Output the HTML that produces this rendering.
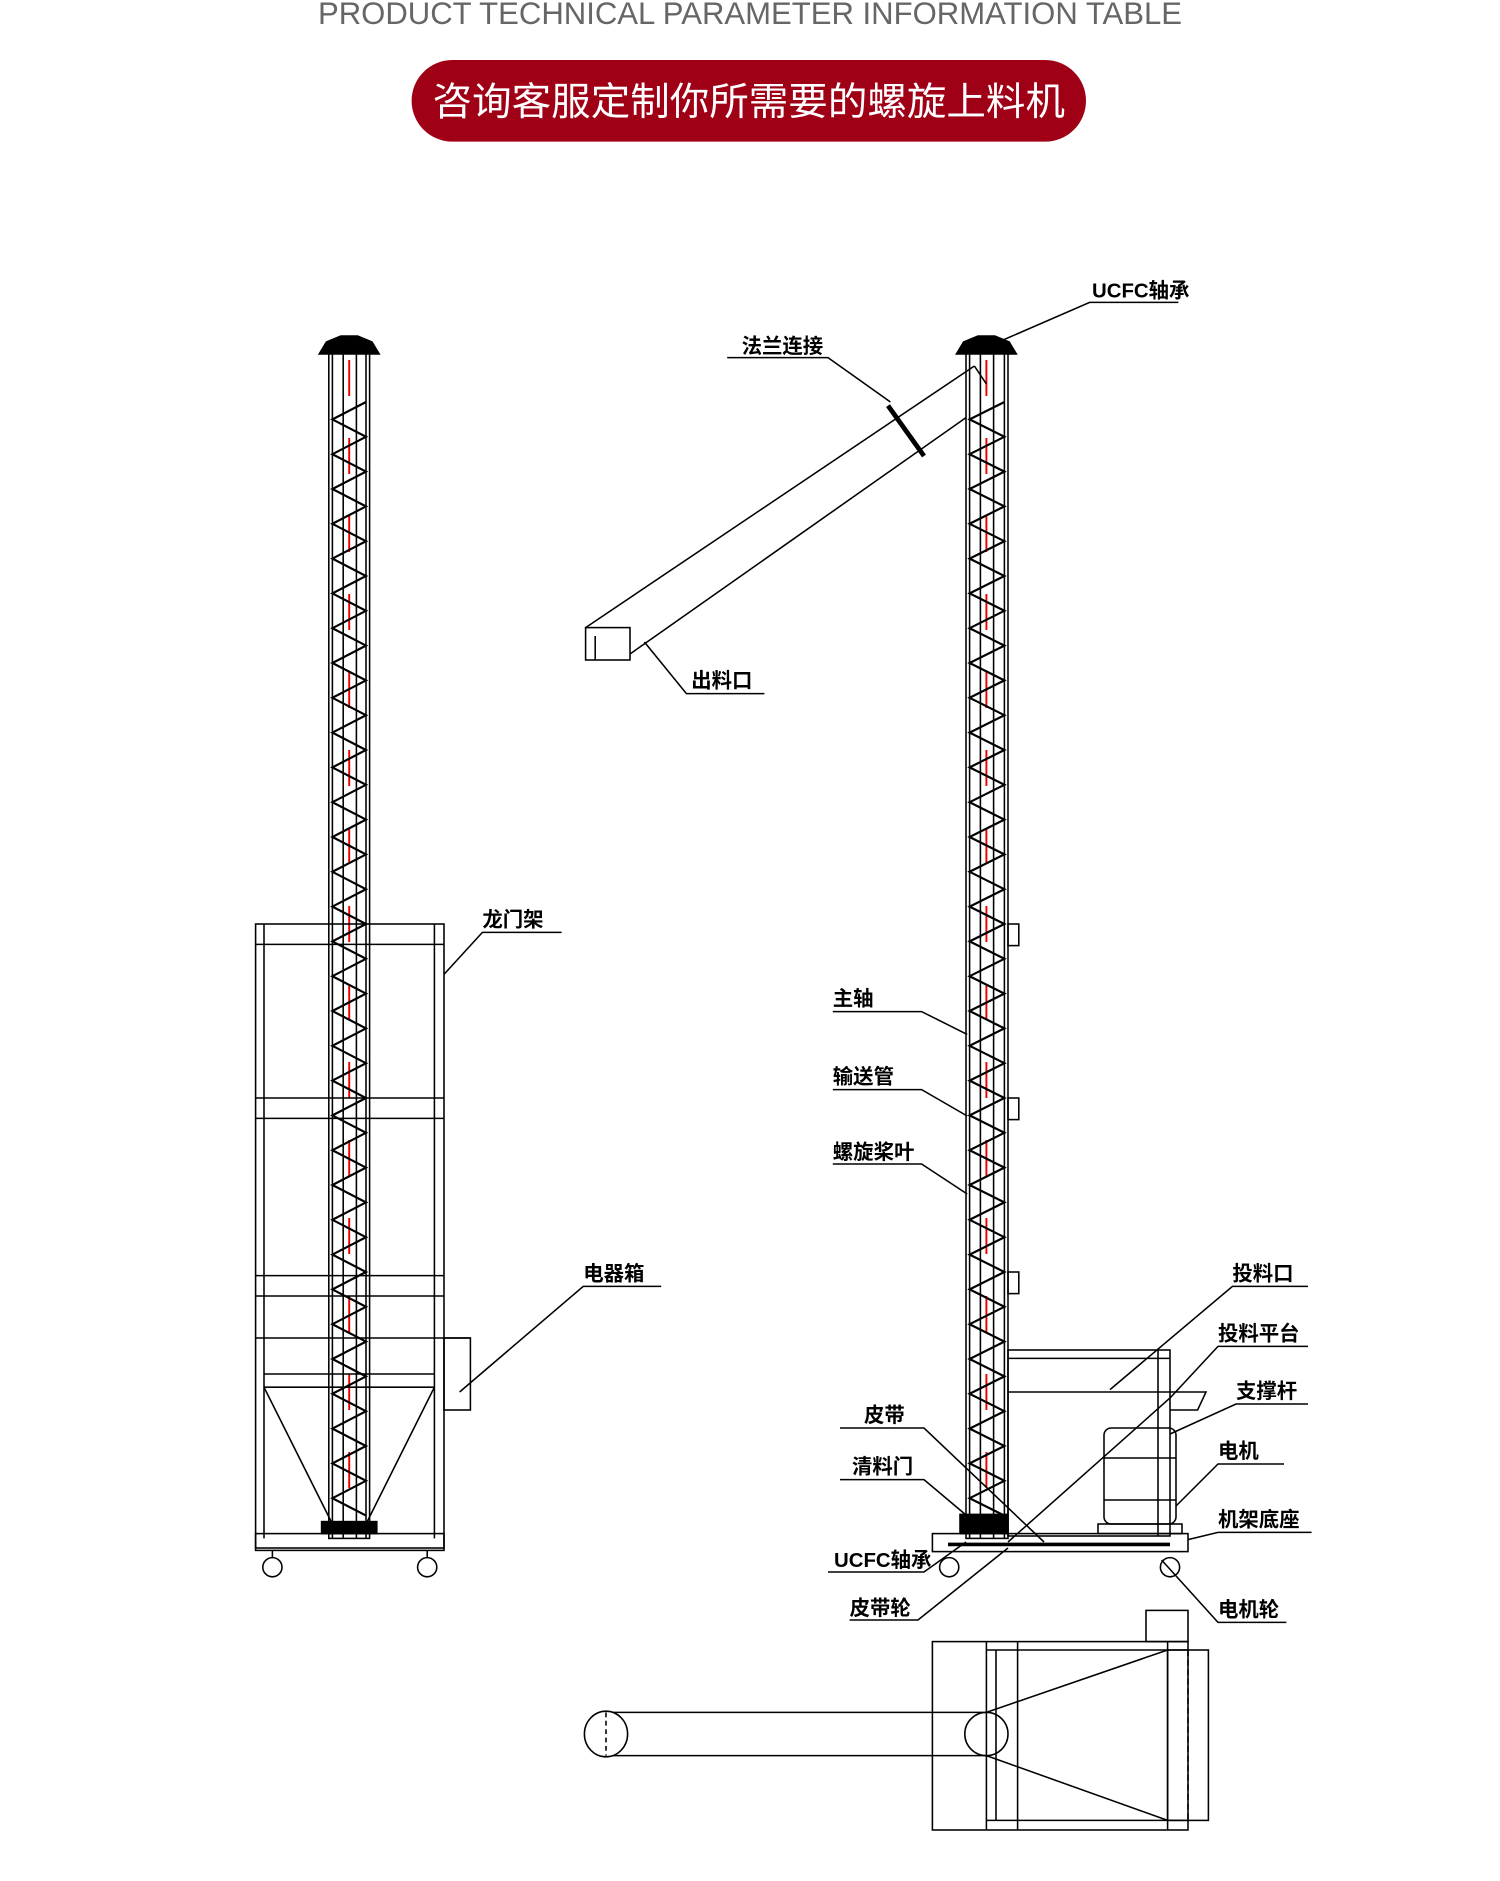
<!DOCTYPE html>
<html><head><meta charset="utf-8"><style>
html,body{margin:0;padding:0;background:#fff;width:1500px;height:1881px;overflow:hidden}
svg{display:block}
.l{font-family:"Liberation Sans","Noto Sans CJK SC",sans-serif;font-weight:bold;font-size:17px;fill:#000}
</style></head><body>
<svg id="s" width="1500" height="1881" viewBox="0 0 1250 1567.5" xmlns="http://www.w3.org/2000/svg">
<text x="625" y="20" text-anchor="middle" font-family="Liberation Sans,sans-serif" font-size="26" fill="#666" textLength="720" lengthAdjust="spacingAndGlyphs">PRODUCT TECHNICAL PARAMETER INFORMATION TABLE</text>
<rect x="343" y="50" width="562" height="68" rx="34" fill="#a00016"/>
<text x="624" y="96" text-anchor="middle" font-family="Liberation Sans,'Noto Sans CJK SC',sans-serif" font-size="32" fill="#fff" textLength="527" lengthAdjust="spacingAndGlyphs">咨询客服定制你所需要的螺旋上料机</text>
<g fill="none" stroke="#000" stroke-width="1.3" id="g">
<!-- left machine -->
<rect x="274" y="292" width="34" height="990"/>
<line x1="277" y1="292" x2="277" y2="1282"/><line x1="305" y1="292" x2="305" y2="1282"/>
<line x1="286" y1="292" x2="286" y2="1282"/><line x1="297" y1="292" x2="297" y2="1282"/>
<path d="M266 295 L316 295 L310 285 L298 280 L284 280 L272 285 Z" fill="#000"/>
<line x1="291" y1="300" x2="291" y2="1275" stroke="#e00" stroke-width="1.6" stroke-dasharray="30 35"/>
<rect x="213" y="770" width="157" height="520"/>
<line x1="220" y1="770" x2="220" y2="1282"/><line x1="362" y1="770" x2="362" y2="1282"/>
<line x1="213" y1="787" x2="370" y2="787"/>
<line x1="213" y1="915" x2="370" y2="915"/><line x1="213" y1="932" x2="370" y2="932"/>
<line x1="213" y1="1063" x2="370" y2="1063"/><line x1="213" y1="1080" x2="370" y2="1080"/>
<line x1="213" y1="1115" x2="392" y2="1115"/>
<line x1="220" y1="1145" x2="362" y2="1145"/><line x1="220" y1="1156" x2="362" y2="1156"/>
<line x1="220" y1="1156" x2="276" y2="1268"/><line x1="362" y1="1156" x2="306" y2="1268"/>
<rect x="370" y="1115" width="22" height="60"/>
<rect x="213" y="1278" width="157" height="14"/>
<rect x="268" y="1268" width="46" height="10" fill="#000"/>
<circle cx="227" cy="1306" r="8"/><circle cx="356" cy="1306" r="8"/>
<line x1="227" y1="1292" x2="227" y2="1298"/><line x1="356" y1="1292" x2="356" y2="1298"/>
<!-- right machine -->
<rect x="805" y="292" width="35" height="990"/>
<line x1="808" y1="292" x2="808" y2="1282"/><line x1="837" y1="292" x2="837" y2="1282"/>
<line x1="817" y1="292" x2="817" y2="1282"/><line x1="828" y1="292" x2="828" y2="1282"/>
<path d="M797 295 L847 295 L841 285 L829 280 L815 280 L803 285 Z" fill="#000"/>
<line x1="822" y1="300" x2="822" y2="1275" stroke="#e00" stroke-width="1.6" stroke-dasharray="30 35"/>
<rect x="840" y="770" width="9" height="18"/><rect x="840" y="915" width="9" height="18"/><rect x="840" y="1060" width="9" height="18"/>
<line x1="812" y1="305" x2="488" y2="523"/><line x1="805" y1="348" x2="525" y2="545"/>
<line x1="812" y1="305" x2="822" y2="320"/>
<rect x="488" y="523" width="37" height="27"/><line x1="496" y1="530" x2="496" y2="550"/>
<line x1="740" y1="338" x2="770" y2="380" stroke-width="4"/>
<rect x="840" y="1125" width="135" height="155"/>
<line x1="840" y1="1132" x2="975" y2="1132"/><line x1="965" y1="1125" x2="965" y2="1280"/>
<path d="M840 1160 L1005 1160 L998 1175 L975 1175"/>
<rect x="920" y="1190" width="60" height="80" rx="6"/>
<line x1="920" y1="1215" x2="980" y2="1215"/><line x1="920" y1="1250" x2="980" y2="1250"/>
<rect x="915" y="1270" width="70" height="8"/>
<rect x="777" y="1278" width="213" height="15"/>
<line x1="790" y1="1287" x2="975" y2="1287" stroke-width="3"/>
<rect x="800" y="1262" width="40" height="16" fill="#000"/>
<circle cx="791" cy="1306" r="8"/><circle cx="975" cy="1306" r="8"/>
<!-- top view -->
<rect x="777" y="1368" width="213" height="157"/>
<line x1="822" y1="1368" x2="822" y2="1525"/><line x1="830" y1="1375" x2="830" y2="1517"/><line x1="848" y1="1368" x2="848" y2="1525"/>
<line x1="822" y1="1375" x2="990" y2="1375"/><line x1="822" y1="1517" x2="990" y2="1517"/>
<line x1="973" y1="1368" x2="973" y2="1525"/>
<rect x="973" y="1375" width="34" height="142"/>
<line x1="990" y1="1375" x2="990" y2="1517" stroke-dasharray="5 3"/>
<rect x="955" y="1342" width="35" height="26"/>
<line x1="822" y1="1427" x2="973" y2="1375"/><line x1="822" y1="1463" x2="973" y2="1517"/>
<line x1="505" y1="1427" x2="822" y2="1427"/><line x1="505" y1="1463" x2="822" y2="1463"/>
<ellipse cx="505" cy="1445" rx="18" ry="19" fill="#fff"/>
<line x1="505" y1="1427" x2="505" y2="1463" stroke-dasharray="4 3"/>
<ellipse cx="822" cy="1445" rx="18" ry="18"/>
<!-- leaders -->
<path d="M468 777 H402 L370 812"/>
<path d="M551 1072 H486 L383 1160"/>
<path d="M606 298 H690 L742 335"/>
<path d="M982 252 H908 L832 285"/>
<path d="M637 578 H572 L537 535"/>
<path d="M694 843 H768 L806 862"/>
<path d="M694 908 H768 L806 930"/>
<path d="M694 970 H768 L806 995"/>
<path d="M1090 1072 H1027 L925 1158"/>
<path d="M1090 1122 H1015 L975 1165 L840 1285"/>
<path d="M1090 1170 H1030 L975 1195"/>
<path d="M1070 1220 H1015 L980 1255"/>
<path d="M1093 1277 H1015 L990 1283"/>
<path d="M1072 1352 H1015 L968 1300"/>
<path d="M700 1190 H770 L870 1285"/>
<path d="M700 1233 H770 L808 1265"/>
<path d="M690 1310 H770 L805 1285"/>
<path d="M708 1350 H765 L840 1290"/>
</g>
<path id="sp1" fill="none" stroke="#000" stroke-width="1.8"/>
<path id="sp2" fill="none" stroke="#000" stroke-width="1.8"/>
<g class="l">
<text x="402" y="772">龙门架</text>
<text x="486" y="1067">电器箱</text>
<text x="618" y="294">法兰连接</text>
<text x="910" y="248">UCFC轴承</text>
<text x="576" y="573">出料口</text>
<text x="694" y="838">主轴</text>
<text x="694" y="903">输送管</text>
<text x="694" y="966">螺旋桨叶</text>
<text x="1027" y="1067">投料口</text>
<text x="1015" y="1117">投料平台</text>
<text x="1030" y="1165">支撑杆</text>
<text x="1015" y="1215">电机</text>
<text x="1015" y="1272">机架底座</text>
<text x="1015" y="1347">电机轮</text>
<text x="720" y="1185">皮带</text>
<text x="710" y="1228">清料门</text>
<text x="695" y="1306">UCFC轴承</text>
<text x="708" y="1346">皮带轮</text>
</g>
</svg>
<script>
function sp(l,r,y0,y1){var p=29,y=y0,d="M"+r+" "+y,s=0;while(y<y1){y+=p/2;d+=" L"+(s?r:l)+" "+y;s=1-s;}return d;}
document.getElementById("sp1").setAttribute("d",sp(277,305,335,1262));
document.getElementById("sp2").setAttribute("d",sp(808,837,335,1262));
</script>
</body></html>
